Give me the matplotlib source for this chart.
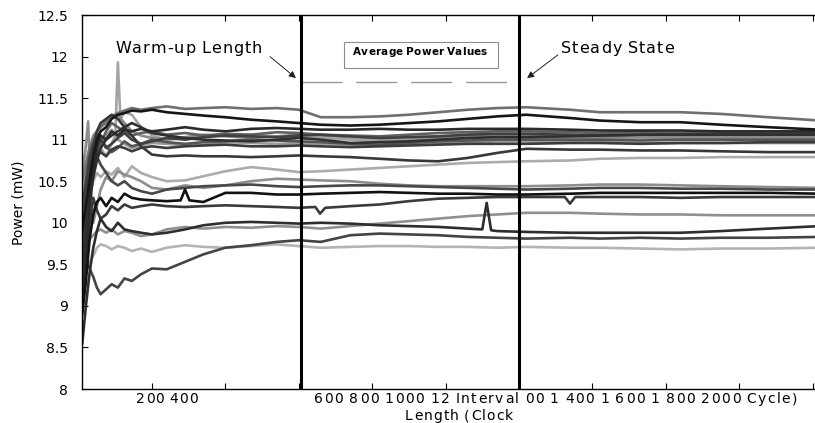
import matplotlib
matplotlib.use("Agg")
import matplotlib.pyplot as plt
from matplotlib.transforms import IdentityTransform
from matplotlib.patches import Rectangle

# ---- datos (ciclos de reloj / mW) ----
x_grid = [10, 20, 30, 40, 50, 60, 75, 90, 107, 125, 145, 170, 200, 240, 290,
          340, 400, 470, 540, 600, 660, 740, 820, 900, 980, 1060, 1140, 1220,
          1340, 1420, 1530, 1640, 1750, 1880, 2020]

run_a = [10.50, 10.70, 10.90, 11.00, 11.10, 11.15, 11.22, 11.28, 11.32, 11.35,
         11.38, 11.36, 11.38, 11.40, 11.37, 11.38, 11.39, 11.37, 11.38, 11.36,
         11.27, 11.27, 11.28, 11.30, 11.33, 11.36, 11.38, 11.39, 11.36, 11.33,
         11.33, 11.33, 11.31, 11.27, 11.23]
run_b = [9.90, 10.20, 10.50, 10.80, 11.00, 11.10, 11.15, 11.25, 11.30, 11.32,
         11.35, 11.34, 11.36, 11.33, 11.31, 11.29, 11.27, 11.24, 11.22, 11.20,
         11.18, 11.17, 11.18, 11.20, 11.22, 11.25, 11.28, 11.30, 11.26, 11.23,
         11.21, 11.21, 11.18, 11.15, 11.12]
run_c = [9.00, 9.60, 10.20, 10.60, 10.90, 11.05, 11.00, 11.10, 11.05, 11.12,
         11.10, 11.13, 11.10, 11.12, 11.15, 11.12, 11.10, 11.13, 11.14, 11.13,
         11.12, 11.12, 11.13, 11.12, 11.12, 11.13, 11.13, 11.13, 11.12, 11.11,
         11.11, 11.11, 11.10, 11.10, 11.10]
run_d = [9.60, 10.00, 10.40, 10.70, 10.85, 10.95, 11.10, 11.20, 11.15, 11.10,
         11.05, 11.08, 11.10, 11.06, 11.08, 11.05, 11.07, 11.06, 11.09, 11.08,
         11.06, 11.05, 11.04, 11.06, 11.08, 11.09, 11.10, 11.10, 11.09, 11.08,
         11.09, 11.08, 11.08, 11.08, 11.08]
run_e = [10.20, 10.50, 10.80, 10.95, 11.05, 11.00, 10.90, 10.95, 11.02, 11.08,
         11.00, 10.95, 10.98, 11.02, 11.00, 11.03, 11.05, 11.04, 11.03, 11.05,
         11.06, 11.04, 11.02, 11.03, 11.04, 11.06, 11.07, 11.07, 11.06, 11.05,
         11.06, 11.06, 11.07, 11.07, 11.07]
run_f = [10.80, 10.60, 10.90, 11.05, 11.10, 11.15, 11.20, 11.28, 11.30, 11.20,
         11.10, 11.05, 11.02, 11.00, 11.03, 11.06, 11.04, 11.02, 11.04, 11.06,
         11.05, 11.03, 11.02, 11.03, 11.04, 11.05, 11.05, 11.05, 11.04, 11.03,
         11.03, 11.03, 11.03, 11.03, 11.03]
run_g = [9.40, 9.90, 10.30, 10.55, 10.75, 10.90, 11.00, 11.05, 11.10, 11.15,
         11.20, 11.15, 11.08, 11.05, 11.02, 11.00, 10.99, 10.98, 11.00, 11.02,
         11.00, 10.96, 10.97, 10.98, 11.00, 11.02, 11.03, 11.03, 11.04, 11.05,
         11.06, 11.06, 11.06, 11.06, 11.06]
run_h = [9.90, 10.40, 10.70, 10.85, 10.95, 11.00, 10.92, 10.85, 10.90, 10.98,
         10.92, 10.95, 11.00, 10.97, 10.95, 10.97, 10.98, 11.00, 10.99, 10.98,
         10.97, 10.95, 10.94, 10.96, 10.98, 10.99, 11.00, 11.00, 11.00, 11.00,
         10.99, 11.00, 11.00, 11.00, 11.00]
run_i = [10.40, 10.70, 10.90, 10.80, 10.75, 10.90, 11.05, 11.12, 11.00, 10.95,
         10.90, 10.93, 10.96, 10.95, 10.93, 10.94, 10.97, 10.96, 10.95, 10.96,
         10.95, 10.94, 10.93, 10.95, 10.96, 10.97, 10.98, 10.98, 10.97, 10.97,
         10.96, 10.96, 10.96, 10.96, 10.96]
run_j = [9.70, 10.10, 10.50, 10.70, 10.80, 10.85, 10.80, 10.88, 10.92, 10.90,
         10.86, 10.90, 10.92, 10.90, 10.92, 10.93, 10.94, 10.92, 10.92, 10.93,
         10.92, 10.91, 10.92, 10.93, 10.94, 10.95, 10.95, 10.95, 10.96, 10.96,
         10.95, 10.96, 10.96, 10.97, 10.97]
run_k = [9.80, 10.30, 10.60, 10.90, 11.10, 11.20, 11.25, 11.30, 11.25, 11.15,
         11.05, 10.92, 10.82, 10.80, 10.81, 10.80, 10.80, 10.79, 10.80, 10.81,
         10.80, 10.79, 10.77, 10.75, 10.74, 10.78, 10.84, 10.89, 10.88, 10.88,
         10.87, 10.87, 10.86, 10.85, 10.85]
run_l = [9.40, 9.90, 10.30, 10.50, 10.60, 10.55, 10.62, 10.58, 10.66, 10.55,
         10.68, 10.60, 10.55, 10.50, 10.51, 10.56, 10.62, 10.67, 10.64, 10.61,
         10.62, 10.64, 10.66, 10.68, 10.70, 10.72, 10.73, 10.74, 10.75, 10.77,
         10.78, 10.78, 10.79, 10.79, 10.79]
run_n = [9.20, 9.80, 10.30, 10.60, 10.80, 10.70, 10.60, 10.50, 10.45, 10.50,
         10.42, 10.38, 10.35, 10.40, 10.42, 10.44, 10.45, 10.46, 10.44, 10.43,
         10.44, 10.45, 10.45, 10.44, 10.43, 10.42, 10.41, 10.40, 10.41, 10.42,
         10.42, 10.41, 10.41, 10.40, 10.40]
run_q = [9.30, 9.60, 9.80, 9.85, 9.90, 9.92, 9.88, 9.92, 9.86, 9.90,
         9.88, 9.84, 9.86, 9.92, 9.95, 9.93, 9.95, 9.94, 9.96, 9.95,
         9.93, 9.96, 9.99, 10.02, 10.05, 10.08, 10.10, 10.12, 10.12, 10.11,
         10.10, 10.10, 10.09, 10.09, 10.09]
run_s = [9.50, 9.55, 9.45, 9.35, 9.22, 9.14, 9.20, 9.26, 9.22, 9.33,
         9.30, 9.38, 9.45, 9.44, 9.53, 9.62, 9.70, 9.73, 9.77, 9.79,
         9.77, 9.85, 9.87, 9.86, 9.85, 9.83, 9.82, 9.81, 9.82, 9.81,
         9.82, 9.81, 9.82, 9.82, 9.83]
run_t = [9.55, 9.58, 9.52, 9.60, 9.70, 9.74, 9.72, 9.68, 9.72, 9.70,
         9.66, 9.69, 9.65, 9.70, 9.73, 9.71, 9.70, 9.72, 9.74, 9.72,
         9.70, 9.71, 9.72, 9.72, 9.71, 9.71, 9.70, 9.71, 9.70, 9.70,
         9.69, 9.68, 9.69, 9.69, 9.70]

# series con picos propios
x_m = [10, 18, 26, 32, 40, 50, 60, 75, 90, 107, 125, 145, 170, 200, 240, 290,
       340, 400, 470, 540, 600, 660, 740, 820, 900, 980, 1060, 1140, 1220,
       1340, 1420, 1530, 1640, 1750, 1880, 2020]
run_m = [10.60, 10.85, 11.22, 10.50, 10.00, 10.20, 10.40, 10.55, 10.50, 10.62,
         10.58, 10.55, 10.50, 10.42, 10.40, 10.45, 10.42, 10.45, 10.50, 10.53,
         10.52, 10.51, 10.50, 10.47, 10.45, 10.44, 10.44, 10.44, 10.44, 10.45,
         10.46, 10.46, 10.45, 10.44, 10.43, 10.42]
x_u = [10, 20, 30, 40, 50, 60, 75, 90, 100, 107, 114, 125, 145, 170, 200, 240,
       290, 340, 400, 470, 540, 600, 660, 740, 820, 900, 980, 1060, 1140, 1220,
       1340, 1420, 1530, 1640, 1750, 1880, 2020]
run_u = [10.00, 10.50, 10.85, 11.00, 11.10, 10.90, 10.80, 10.95, 11.05, 11.93,
         11.25, 11.33, 11.30, 11.15, 11.05, 11.00, 11.02, 11.04, 11.05, 11.06,
         11.04, 11.03, 11.02, 11.00, 10.99, 11.00, 11.02, 11.03, 11.03, 11.02,
         11.01, 11.01, 11.02, 11.02, 11.01, 11.01, 11.01]
x_r = [10, 20, 30, 40, 50, 60, 75, 90, 107, 125, 145, 170, 200, 240, 290, 340,
       400, 470, 540, 600, 660, 740, 820, 900, 980, 1060, 1100, 1112, 1124,
       1140, 1220, 1340, 1420, 1530, 1640, 1750, 1880, 2020]
run_r = [8.55, 9.00, 9.40, 9.70, 9.90, 10.05, 9.95, 9.90, 10.00, 9.92,
         9.90, 9.88, 9.86, 9.88, 9.92, 9.97, 10.00, 10.01, 10.00, 9.99,
         10.00, 9.99, 9.97, 9.96, 9.95, 9.93, 9.92, 10.24, 9.91, 9.90,
         9.89, 9.88, 9.88, 9.88, 9.88, 9.90, 9.93, 9.96]
x_o = [10, 20, 30, 40, 50, 60, 75, 90, 107, 125, 145, 170, 200, 240, 278, 290,
       302, 340, 400, 470, 540, 600, 660, 740, 820, 900, 980, 1060, 1140, 1220,
       1340, 1420, 1530, 1640, 1750, 1880, 2020]
run_o = [8.90, 9.30, 9.80, 10.10, 10.25, 10.30, 10.20, 10.30, 10.25, 10.35,
         10.30, 10.28, 10.27, 10.26, 10.27, 10.40, 10.27, 10.25, 10.36, 10.36,
         10.34, 10.34, 10.35, 10.36, 10.37, 10.36, 10.35, 10.35, 10.34, 10.34,
         10.35, 10.36, 10.36, 10.36, 10.36, 10.36, 10.35]
x_p = [10, 20, 30, 40, 50, 60, 75, 90, 107, 125, 145, 170, 200, 240, 290, 340,
       400, 470, 540, 600, 645, 658, 672, 740, 820, 900, 980, 1060, 1140, 1220,
       1325, 1339, 1353, 1420, 1530, 1640, 1750, 1880, 2020]
run_p = [9.10, 9.60, 10.00, 10.30, 10.15, 10.05, 10.10, 10.20, 10.15, 10.22,
         10.18, 10.20, 10.22, 10.20, 10.19, 10.20, 10.21, 10.20, 10.19, 10.18,
         10.19, 10.11, 10.18, 10.20, 10.22, 10.26, 10.29, 10.30, 10.31, 10.31,
         10.31, 10.23, 10.31, 10.31, 10.31, 10.30, 10.31, 10.31, 10.31]

warmup_end = 605
steady_start = 1200
avg_level = 11.69
x_ticks = [200, 400, 600, 800, 1000, 1200, 1400, 1600, 1800, 2000]
y_ticks = [8, 8.5, 9, 9.5, 10, 10.5, 11, 11.5, 12, 12.5]
y_tick_labels = ["8", "8.5", "9", "9.5", "10", "10.5", "11", "11.5", "12", "12.5"]

# ---- estilo ----
series = [
    (x_grid, run_t, "#b4b4b4"), (x_grid, run_l, "#acacac"), (x_u, run_u, "#a4a4a4"),
    (x_grid, run_i, "#9c9c9c"), (x_grid, run_q, "#909090"), (x_m, run_m, "#8e8e8e"),
    (x_grid, run_f, "#8a8a8a"), (x_grid, run_a, "#707070"), (x_grid, run_d, "#606060"),
    (x_grid, run_h, "#555555"), (x_grid, run_n, "#484848"), (x_grid, run_s, "#444444"),
    (x_grid, run_e, "#404040"), (x_grid, run_j, "#3c3c3c"), (x_p, run_p, "#3a3a3a"),
    (x_grid, run_k, "#383838"), (x_grid, run_g, "#303030"), (x_r, run_r, "#2e2e2e"),
    (x_grid, run_c, "#2a2a2a"), (x_grid, run_b, "#161616"), (x_o, run_o, "#111111"),
]

W, H = 815, 423
fig = plt.figure(figsize=(W / 100, H / 100), dpi=100)
ax = fig.add_axes([82 / W, 1 - 389 / H, (822 - 82) / W, (389 - 15) / H])

for xs, ys, c in series:
    ax.plot(xs, ys, color=c, lw=1.9, solid_joinstyle="round")

ax.axvline(warmup_end, color="black", lw=2.2, zorder=5)
ax.axvline(steady_start, color="black", lw=2.2, zorder=5)
ax.plot([warmup_end, steady_start], [avg_level, avg_level], color="#9a9a9a",
        lw=1, linestyle=(0, (29.5, 10)))

ax.annotate("", xy=(598, 11.72), xytext=(516, 12.02),
            arrowprops=dict(arrowstyle="-|>", color="#222222", lw=0.7, mutation_scale=10))
ax.annotate("", xy=(1216, 11.72), xytext=(1312, 12.04),
            arrowprops=dict(arrowstyle="-|>", color="#222222", lw=0.7, mutation_scale=10))

ax.set_xlim(9.3, 2025.6)
ax.set_ylim(8, 12.5)
ax.set_xticks(x_ticks)
ax.set_yticks(y_ticks)
ax.set_yticklabels(y_tick_labels)
ax.tick_params(direction="in", length=4, width=0.8, top=True, right=False,
               labelsize=10, pad=10)
ax.tick_params(axis="x", labelbottom=False)
for sp in ax.spines.values():
    sp.set_linewidth(1.0)


def tracked(s, left, right, base, size, weight="normal"):
    # texto con espaciado entre letras, en pixeles
    r = fig.canvas.get_renderer()
    em = size * 100 / 72
    parts = []
    for ch in s:
        if ch == " ":
            parts.append((None, 0.25 * em))
        else:
            t = fig.text(0, 0, ch, fontsize=size, weight=weight,
                         transform=IdentityTransform(), ha="left", va="baseline")
            parts.append((t, t.get_window_extent(r).width))
    gap = (right - left - sum(w for _, w in parts)) / (len(parts) - 1)
    x = left
    for t, w in parts:
        if t is not None:
            t.set_position((x, H - base))
        x += w + gap


tracked("Warm-up Length", 115, 262, 53, 11.5)
tracked("Steady State", 561, 674, 52.5, 11.5)
tracked("Average Power Values", 353, 487, 55, 7.5, weight="bold")
tracked("200 400", 136, 198, 403, 10)
tracked("600 800 1000 12 Interval 00 1 400 1 600 1 800 2000 Cycle)", 314, 797, 403, 10)
tracked("Length (Clock", 405, 513, 420, 10)

fig.add_artist(Rectangle((344, H - 68), 154, 26, transform=IdentityTransform(),
                         fill=False, edgecolor="#8c8c8c", lw=0.8))

fig.text(19 / W, 1 - 203 / H, "Power (mW)", rotation=90, ha="center",
         va="center", fontsize=10)

fig.savefig("out.png", dpi=100)
